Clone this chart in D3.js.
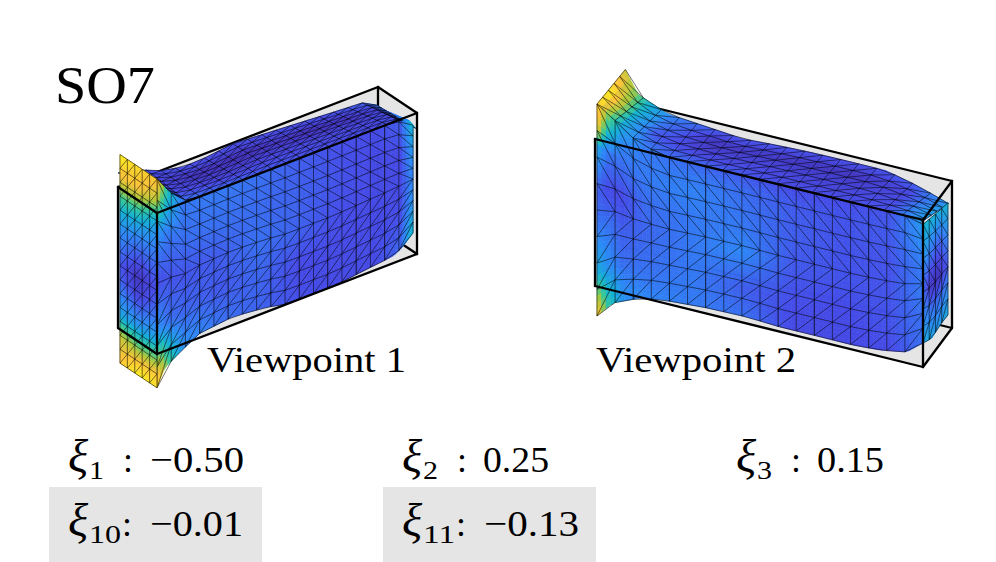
<!DOCTYPE html>
<html>
<head>
<meta charset="utf-8">
<style>
html,body{margin:0;padding:0;background:#fff;}
svg{display:block;}
text{font-family:"Liberation Serif",serif;fill:#000;}
</style>
<script src="https://cdnjs.cloudflare.com/ajax/libs/d3/7.8.5/d3.min.js"></script>
</head>
<body>
<div id="chart"></div>
<script>
// parula colour map
var parulaStops = [0, .125, .25, .375, .5, .625, .8, 1];
var parulaColors = ["#3e26a8", "#454be8", "#2d87f7", "#12b1d6", "#37c897", "#abc739", "#fec338", "#f9fb14"];

var title = "SO7";
var viewLabels = ["Viewpoint 1", "Viewpoint 2"];
var xiIndex = ["1", "2", "3", "10", "11"];
var xiValues = ["\u22120.50", "0.25", "0.15", "\u22120.01", "\u22120.13"];

// viewpoint 1, boundary of the surface, offsets in box units along the length t
var v1BottomT = [0, .03, .088, .165, .29, .42, .5, .68, .81, .91, .945, .985];
var v1Bottom = [-.24, -.12, -.05, .03, .057, .033, 0, 0, .03, .05, .09, .16];
var v1CreaseT = [0, .04, .08, .12, .9, .97, 1];
var v1Crease = [1.24, 1.135, 1.05, 1, 1, .97, .88];
var v1BackT = [0, .1, .16, .25, .34, .44, .546, .7, .827, .94, 1];
var v1BackDrop = [-.1, -.05, 0, .035, .03, .007, .02, .04, .057, .07, .13];

// viewpoint 1 colour values
var v1StopsT = [0, .04, .1, .25, .4, .55, .7, .85, .95, 1];
var v1FrontV = [0, .25, .5, .75, 1];
var v1Front = [
  [.95, .55, .28, .2, .17, .13, .12, .12, .18, .42],
  [.3, .2, .18, .15, .18, .12, .12, .12, .13, .3],
  [.12, .14, .14, .16, .2, .17, .13, .12, .12, .25],
  [.3, .22, .2, .2, .19, .17, .14, .12, .12, .3],
  [.85, .45, .22, .22, .2, .16, .13, .12, .16, .42]
];
var v1TopV = [0, .35, .65, 1];
var v1Top = [
  [.85, .4, .2, .18, .16, .14, .12, .12, .14, .38],
  [.5, .2, .12, .08, .08, .1, .1, .1, .12, .28],
  [.35, .18, .09, .04, .02, .04, .03, .05, .11, .22],
  [.3, .17, .14, .13, .13, .13, .13, .14, .17, .2]
];
var v1FlapY = [0, .5, 1];
var v1FlapZ = [0, .1, .2, .27, .36, .46, .53, .6, .67, .77, .88, .94, 1];
var v1Flap = [
  [.85, .88, .95],
  [.66, .8, .8],
  [.35, .5, .52],
  [.28, .34, .38],
  [.22, .22, .27],
  [.16, .12, .2],
  [.13, .05, .14],
  [.16, .08, .17],
  [.22, .16, .24],
  [.33, .3, .34],
  [.6, .6, .7],
  [.82, .82, .75],
  [.9, .95, .82]
];

// viewpoint 2 boundary
var v2BottomT = [0, .055, .137, .207, .34, .463, .564, .665, .787, .869, .951, 1];
var v2Bottom = [-.215, -.085, -.007, .019, .039, .044, .032, .033, .032, .043, .075, .163];
var v2CreaseT = [0, .06, .116, .2, .95, 1];
var v2Crease = [1.25, 1.16, 1.07, 1, 1, .97];
var v2BackT = [0, .043, .134, .27, .363, .476, .576, .68, .8, .88, .933, 1];
var v2BackDrop = [-.24, -.07, .014, .04, .058, .044, .036, .034, .034, .075, .11, .16];

// viewpoint 2 colour values
var v2StopsT = [0, .03, .08, .15, .3, .45, .6, .75, .9, 1];
var v2FrontV = [0, .1, .2, .45, .6, .8, .9, 1];
var v2Front = [
  [.85, .5, .28, .25, .22, .2, .12, .12, .12, .2],
  [.62, .4, .25, .22, .22, .18, .12, .12, .13, .2],
  [.38, .28, .2, .2, .22, .16, .13, .12, .14, .2],
  [.2, .2, .15, .18, .22, .25, .15, .14, .14, .22],
  [.17, .12, .12, .19, .22, .22, .16, .14, .14, .22],
  [.35, .22, .2, .22, .24, .2, .16, .14, .15, .26],
  [.82, .42, .24, .22, .22, .19, .15, .14, .15, .28],
  [.92, .62, .32, .22, .18, .15, .12, .12, .14, .3]
];
var v2TopV = [0, .4, .7, 1];
var v2Top = [
  [.92, .62, .32, .22, .18, .15, .12, .12, .14, .3],
  [.98, .72, .34, .14, .08, .1, .09, .09, .12, .33],
  [.85, .65, .38, .2, .05, .06, .05, .05, .1, .3],
  [.72, .6, .38, .24, .14, .14, .13, .13, .16, .28]
];
var v2EndY = [0, .33, .66, 1];
var v2EndZ = [0, .25, .45, .7, 1];
var v2End = [
  [.35, .33, .3, .35],
  [.25, .2, .18, .25],
  [.2, .05, .04, .15],
  [.3, .2, .15, .25],
  [.4, .38, .35, .38]
];
var v2EndBottomY = [0, .3, .6, .86];
var v2EndBottom = [.163, .115, .13, .126];
var v2EndTop = [.97, .94, .91, .89];

// columns of the mesh that print heavier
var v1HeavyCols = [3, 5, 8, 10, 12, 14, 16];
var v2HeavyCols = [2, 4, 6, 10, 12, 15];

var width = 996, height = 562;
var svg = d3.select("#chart").append("svg").attr("width", width).attr("height", height);
var parula = d3.scaleLinear().domain(parulaStops).range(parulaColors).clamp(true);
var lineGen = d3.line();

function profile(ts, vals) {
  return d3.scaleLinear().domain(ts).range(vals).clamp(true);
}

// bilinear lookup in a small value table
function field(colStops, rowStops, table) {
  var rows = table.map(function(r) { return profile(colStops, r); });
  return function(c, r) {
    return profile(rowStops, rows.map(function(f) { return f(c); }))(r);
  };
}

// oblique projection of the unit box
function projection(o, ex, ey, ez) {
  var lenX = d3.scaleLinear().range([0, ex[0]]), lenY = d3.scaleLinear().range([0, ex[1]]);
  var depX = d3.scaleLinear().range([0, ey[0]]), depY = d3.scaleLinear().range([0, ey[1]]);
  var upY = d3.scaleLinear().range([0, ez]);
  return function(t, y, z) {
    return [o[0] + lenX(t) + depX(y), o[1] + lenY(t) + depY(y) + upY(z)];
  };
}

function drawPatch(g, cols, rows, pos, val, flip, heavy) {
  var sub = 4, cells = [], i, j;
  for (i = 0; i < cols * sub; i++) for (j = 0; j < rows * sub; j++) {
    var u0 = i / (cols * sub), u1 = (i + 1) / (cols * sub);
    var v0 = j / (rows * sub), v1 = (j + 1) / (rows * sub);
    cells.push({pts: [pos(u0, v0), pos(u1, v0), pos(u1, v1), pos(u0, v1)],
                c: parula(val((u0 + u1) / 2, (v0 + v1) / 2))});
  }
  g.append("g").selectAll("path").data(cells).enter().append("path")
    .attr("d", function(d) { return lineGen(d.pts) + "Z"; })
    .attr("fill", function(d) { return d.c; })
    .attr("stroke", function(d) { return d.c; })
    .attr("stroke-width", .6);

  function node(a, b) { return pos(a / cols, b / rows); }
  var d = "", dh = "";
  for (i = 0; i <= cols; i++) {
    var p = [];
    for (j = 0; j <= rows; j++) p.push(node(i, j));
    if (heavy && heavy.indexOf(i) >= 0) dh += lineGen(p);
    else d += lineGen(p);
  }
  for (j = 0; j <= rows; j++) {
    var q = [];
    for (i = 0; i <= cols; i++) q.push(node(i, j));
    d += lineGen(q);
  }
  var dd = "";
  for (i = 0; i < cols; i++) for (j = 0; j < rows; j++) {
    if (flip(i, j)) dd += lineGen([node(i, j), node(i + 1, j + 1)]);
    else dd += lineGen([node(i + 1, j), node(i, j + 1)]);
  }
  g.append("path").attr("d", d).attr("fill", "none").attr("stroke", "#000").attr("stroke-width", .65).attr("stroke-opacity", .85);
  g.append("path").attr("d", dd).attr("fill", "none").attr("stroke", "#000").attr("stroke-width", .65).attr("stroke-opacity", .8);
  if (dh) g.append("path").attr("d", dh).attr("fill", "none").attr("stroke", "#000").attr("stroke-width", .85).attr("stroke-opacity", .9);
}

function boxLines(g, proj, segs) {
  g.append("g").selectAll("path").data(segs).enter().append("path")
    .attr("d", function(s) { return lineGen([proj(s[0], s[1], s[2]), proj(s[3], s[4], s[5])]); })
    .attr("fill", "none").attr("stroke", "#000").attr("stroke-width", 2.3).attr("stroke-linecap", "round");
}

function drawGrey(g, proj, corners) {
  g.append("path").attr("d", lineGen(corners.map(function(c) { return proj(c[0], c[1], c[2]); })) + "Z").attr("fill", "#e5e5e5");
}

// ---- viewpoint 1
var g1 = svg.append("g");
var p1 = projection([157, 354], [260, -100], [-39, -26], -141);
drawGrey(g1, p1, [[0, 1, 1], [1, 1, 1], [1, 0, 1], [1, 0, 0], [0, 0, 0], [0, 1, 0]]);
boxLines(g1, p1, [[0, 1, 1, 1, 1, 1], [1, 1, 1, 1, 1, 0], [1, 1, 0, 1, 0, 0]]);

var bottom1 = profile(v1BottomT, v1Bottom), crease1 = profile(v1CreaseT, v1Crease), back1 = profile(v1BackT, v1BackDrop);
var top1 = field(v1StopsT, v1TopV, v1Top), front1 = field(v1StopsT, v1FrontV, v1Front), flap1 = field(v1FlapY, v1FlapZ, v1Flap);

drawPatch(g1, 18, 8, function(u, v) {
  var t = u * .995;
  return p1(t, v, crease1(t) * (1 - v) + (1 - back1(t)) * v);
}, function(u, v) { return top1(u, v); }, function() { return true; });

drawPatch(g1, 18, 10, function(u, v) {
  var t = u * .985;
  return p1(t, 0, bottom1(t) + (crease1(t) - bottom1(t)) * (1 - v));
}, function(u, v) { return front1(u, 1 - v); }, function(i, j) { return j < 5; }, v1HeavyCols);

drawPatch(g1, 5, 15, function(u, v) {
  var y = .95 * (1 - u);
  return p1(0, y, 1.24 - 1.48 * v);
}, function(u, v) { return flap1(1 - u, v); }, function(i, j) { return false; });

boxLines(g1, p1, [
  [0, 0, 1, 1, 0, 1], [0, 0, 0, 1, 0, 0], [0, 0, 0, 0, 0, 1], [1, 0, 0, 1, 0, 1],
  [1, 0, 1, 1, 1, 1], [0, 1, 1, 0, 0, 1], [0, 1, 0, 0, 0, 0], [0, 1, 0, 0, 1, 1]
]);

// ---- viewpoint 2
var g2 = svg.append("g");
var p2 = projection([595, 286], [328, 81], [29, -39], -147);
drawGrey(g2, p2, [[0, 0, 1], [0, 1, 1], [1, 1, 1], [1, 1, 0], [1, 0, 0], [0, 0, 0]]);
boxLines(g2, p2, [[0, 1, 1, 1, 1, 1], [1, 1, 1, 1, 1, 0], [0, 1, 0, 1, 1, 0]]);

var bottom2 = profile(v2BottomT, v2Bottom), crease2 = profile(v2CreaseT, v2Crease), back2 = profile(v2BackT, v2BackDrop);
var top2 = field(v2StopsT, v2TopV, v2Top), front2 = field(v2StopsT, v2FrontV, v2Front), end2 = field(v2EndY, v2EndZ, v2End);
var endBottom = profile(v2EndBottomY, v2EndBottom), endTop = profile(v2EndBottomY, v2EndTop);

drawPatch(g2, 18, 5, function(u, v) {
  var t = .006 + u * .985;
  return p2(t, v * .98, crease2(t) * (1 - v) + (1 - back2(t)) * v);
}, function(u, v) { return top2(u, v); }, function() { return true; });

drawPatch(g2, 4, 7, function(u, v) {
  var y = .86 * u;
  return p2(1, y, endTop(y) + (endBottom(y) - endTop(y)) * v);
}, function(u, v) { return end2(u, 1 - v); }, function(i, j) { return j < 4; });

drawPatch(g2, 18, 8, function(u, v) {
  var t = .006 + u * .994;
  return p2(t, 0, bottom2(t) + (crease2(t) - bottom2(t)) * (1 - v));
}, function(u, v) { return front2(u, 1 - v); }, function(i, j) { return j < 4; }, v2HeavyCols);

boxLines(g2, p2, [
  [0, 0, 1, 1, 0, 1], [0, 0, 0, 1, 0, 0], [0, 0, 0, 0, 0, 1], [1, 0, 0, 1, 0, 1],
  [1, 0, 1, 1, 1, 1], [1, 0, 0, 1, 1, 0]
]);

// ---- text
function label(x, y, str, size, len, italic) {
  var t = svg.append("text").attr("x", x).attr("y", y).attr("font-size", size).text(str);
  if (len) t.attr("textLength", len).attr("lengthAdjust", "spacingAndGlyphs");
  if (italic) t.attr("font-style", "italic");
  return t;
}

label(55, 103, title, 53, 100);
label(207, 372, viewLabels[0], 36.5, 199);
label(596, 372, viewLabels[1], 36.5, 200);

svg.insert("rect", "g").attr("x", 49).attr("y", 487).attr("width", 213).attr("height", 75).attr("fill", "#e5e5e5");
svg.insert("rect", "g").attr("x", 383).attr("y", 487).attr("width", 213).attr("height", 75).attr("fill", "#e5e5e5");

var xiPos = [[68, 472, 123, 150, 94], [402, 472, 457, 483, 66], [736, 472, 791, 817, 67], [68, 536, 122, 150, 93], [402, 536, 456, 484, 95]];
xiPos.forEach(function(p, i) {
  label(p[0], p[1], "\u03be", 47, 0, true);
  var subW = xiIndex[i].length > 1 ? 32 : 15;
  label(p[0] + 21, p[1] + 7, xiIndex[i], 26, subW);
  label(p[2], p[1], ":", 36);
  label(p[3], p[1], xiValues[i], 36.5, p[4]);
});
</script>
</body>
</html>
